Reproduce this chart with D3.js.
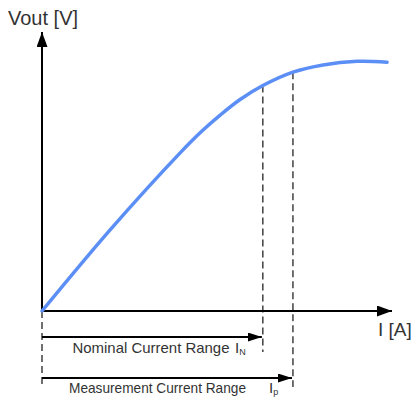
<!DOCTYPE html>
<html>
<head>
<meta charset="utf-8">
<script src="https://cdn.jsdelivr.net/npm/d3@7"></script>
<style>
  html, body { margin: 0; padding: 0; background: #fff; }
  svg { display: block; font-family: "Liberation Sans", Arial, sans-serif; }
</style>
</head>
<body>
<svg id="chart" width="414" height="397"></svg>
<script>
// Curve data (arbitrary units, 0..100 on each axis)
const current = [0, 19.4, 39.4, 45.1, 50.9, 56.6, 63.1, 71.7, 80.3, 90.0, 98.6];
const vout    = [0, 29.0, 56.6, 63.8, 70.2, 75.8, 80.8, 85.6, 88.2, 89.5, 89.2];

// Range limits: nominal I_N and measurement I_p
const rangeNames  = ["Nominal Current Range", "Measurement Current Range"];
const rangeSubs   = ["N", "p"];
const rangeLimit  = [63.1, 71.7];
const rangeVout   = [80.8, 85.6];

const axisLabels = { x: "I [A]", y: "Vout [V]" };

const svg = d3.select("#chart");
const x = d3.scaleLinear().domain([0, 100]).range([42, 392]);
const y = d3.scaleLinear().domain([0, 100]).range([311, 32]);

// arrow markers
const defs = svg.append("defs");
function marker(id, len, half) {
  defs.append("marker")
    .attr("id", id)
    .attr("viewBox", `0 ${-half} ${len} ${2*half}`)
    .attr("refX", len).attr("refY", 0)
    .attr("markerUnits", "userSpaceOnUse")
    .attr("markerWidth", len).attr("markerHeight", 2*half)
    .attr("orient", "auto")
    .append("path")
    .attr("d", `M0,${-half}L${len},0L0,${half}Z`)
    .attr("fill", "#000");
}
marker("axisArrow", 15, 5.5);
marker("rangeArrow", 14, 4.5);

// dashed guide lines
const dashStyle = "7,4";
svg.append("line")
  .attr("x1", x(0)).attr("x2", x(0))
  .attr("y1", y(0)).attr("y2", 386)
  .attr("stroke", "#111").attr("stroke-width", 1.2)
  .attr("stroke-dasharray", dashStyle);
const dashBottoms = [352, 387];
rangeLimit.forEach((v, i) => {
  svg.append("line")
    .attr("x1", x(v)).attr("x2", x(v))
    .attr("y1", y(rangeVout[i])).attr("y2", dashBottoms[i])
    .attr("stroke", "#111").attr("stroke-width", 1.2)
    .attr("stroke-dasharray", dashStyle);
});

// axes
svg.append("line")
  .attr("x1", x(0)).attr("y1", y(0))
  .attr("x2", x(0)).attr("y2", y(100))
  .attr("stroke", "#000").attr("stroke-width", 2)
  .attr("marker-end", "url(#axisArrow)");
svg.append("line")
  .attr("x1", x(0)).attr("y1", y(0))
  .attr("x2", x(100)).attr("y2", y(0))
  .attr("stroke", "#000").attr("stroke-width", 2)
  .attr("marker-end", "url(#axisArrow)");

// curve
const pts = current.map((c, i) => [c, vout[i]]);
svg.append("path")
  .datum(pts)
  .attr("fill", "none")
  .attr("stroke", "#5c8ff5")
  .attr("stroke-width", 3.5)
  .attr("stroke-linecap", "round")
  .attr("d", d3.line().x(d => x(d[0])).y(d => y(d[1])).curve(d3.curveCatmullRom.alpha(0.5)));

// range arrows + labels
const arrowY = [337, 378];
const textY = [352.5, 393];
const textX = [72.5, 69];
const textLen = [157, 177];
const subX = [235, 269];
rangeLimit.forEach((v, i) => {
  svg.append("line")
    .attr("x1", x(0)).attr("x2", x(v) - 1)
    .attr("y1", arrowY[i]).attr("y2", arrowY[i])
    .attr("stroke", "#000").attr("stroke-width", 2)
    .attr("marker-end", "url(#rangeArrow)");
  const t = svg.append("text")
    .attr("x", textX[i]).attr("y", textY[i])
    .attr("fill", "#333")
    .attr("font-size", 15);
  t.append("tspan")
    .attr("textLength", textLen[i])
    .attr("lengthAdjust", "spacingAndGlyphs")
    .text(rangeNames[i]);
  t.append("tspan")
    .attr("x", subX[i])
    .text("I");
  t.append("tspan")
    .attr("font-size", 9)
    .attr("dy", 2)
    .text(rangeSubs[i]);
});

// axis labels
svg.append("text")
  .attr("x", 8).attr("y", 25)
  .attr("font-size", 20).attr("fill", "#333")
  .text(axisLabels.y);
svg.append("text")
  .attr("x", 378).attr("y", 336)
  .attr("font-size", 19).attr("fill", "#333")
  .text(axisLabels.x);
</script>
</body>
</html>
